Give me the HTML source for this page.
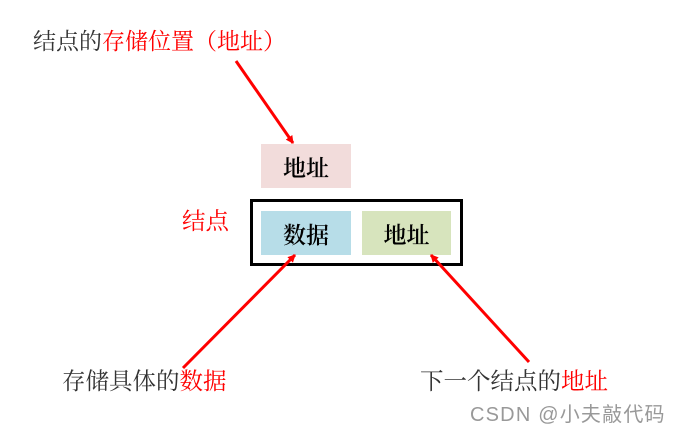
<!DOCTYPE html>
<html><head><meta charset="utf-8"><style>
body{margin:0;width:682px;height:431px;background:#fff;position:relative;overflow:hidden;font-family:"Liberation Serif","Noto Serif CJK SC",serif;}
.t{position:absolute;font-size:23.5px;line-height:28px;color:#333;white-space:nowrap;}
.r{color:#f00;}
.b{position:absolute;display:flex;align-items:center;justify-content:center;font-size:23px;color:#000;font-weight:600;}
</style></head><body>
<div class="t" style="left:33px;top:28px;font-size:23px;">结点的<span class="r">存储位置（地址）</span></div>
<div class="b" style="left:261px;top:144px;width:90px;height:44px;background:#f2dcdb;">地址</div>
<div style="position:absolute;left:250px;top:199px;width:207px;height:61px;border:3px solid #000;"></div>
<div class="b" style="left:261px;top:211px;width:90px;height:44px;background:#b7dde8;">数据</div>
<div class="b" style="left:362px;top:211px;width:89px;height:44px;background:#d7e4bd;">地址</div>
<div class="t r" style="left:182px;top:208px;">结点</div>
<div class="t" style="left:62px;top:368px;">存储具体的<span class="r">数据</span></div>
<div class="t" style="left:420px;top:368px;">下一个结点的<span class="r">地址</span></div>
<div style="position:absolute;left:470px;top:398px;font-family:'Liberation Sans','Noto Sans CJK SC',sans-serif;font-size:20px;letter-spacing:1.2px;color:#999;white-space:nowrap;">CSDN @小夫敲代码</div>
<svg width="682" height="431" style="position:absolute;left:0;top:0">
<defs><marker id="a" markerWidth="8" markerHeight="8" refX="7" refY="4" orient="auto" markerUnits="userSpaceOnUse"><path d="M0,0L8,4L0,8z" fill="#f00"/></marker></defs>
<g stroke="#f00" stroke-width="3" fill="none" marker-end="url(#a)">
<line x1="236" y1="61" x2="293" y2="143"/>
<line x1="183" y1="368" x2="295" y2="255"/>
<line x1="529" y1="362" x2="431" y2="255"/>
</g></svg>
</body></html>
